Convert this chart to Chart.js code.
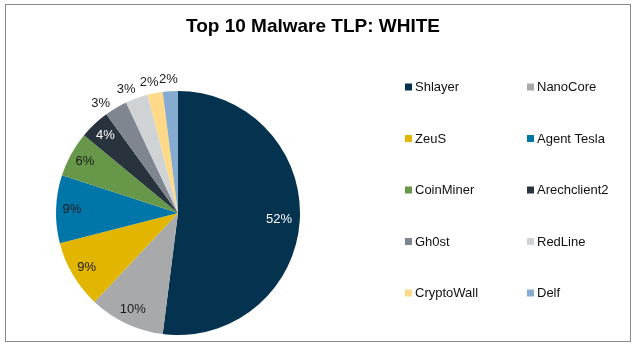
<!DOCTYPE html>
<html>
<head>
<meta charset="utf-8">
<script src="https://cdn.jsdelivr.net/npm/chart.js@4"></script>
<style>
    html, body { margin: 0; padding: 0; background: #ffffff; }
    #frame {
        position: absolute;
        left: 5px;
        top: 4px;
        width: 624px;
        height: 336px;
        border: 1px solid #8a8a8a;
    }
    #wrap { position: absolute; left: 0; top: 0; width: 637px; height: 348px; }
</style>
</head>
<body>
<div id="frame"></div>
<div id="wrap"><canvas id="myChart" width="637" height="348"></canvas></div>
<script>
const title = 'Top 10 Malware TLP: WHITE';
const labels = ['Shlayer', 'NanoCore', 'ZeuS', 'Agent Tesla', 'CoinMiner', 'Arechclient2', 'Gh0st', 'RedLine', 'CryptoWall', 'Delf'];
const shares = [52, 10, 9, 9, 6, 4, 3, 3, 2, 2];
const colors = ['#04324f', '#a8a9ab', '#e1b500', '#0075a7', '#67984a', '#28333d', '#80868f', '#d0d3d6', '#fed987', '#85abd0'];
const labelColors = ['#ffffff', '#1a1a1a', '#1a1a1a', '#1a1a1a', '#1a1a1a', '#ffffff', '#1a1a1a', '#1a1a1a', '#1a1a1a', '#1a1a1a'];

/**
 * タイトルを描画します。
 */
const titlePlugin = {
    id: 'titleText',
    afterDraw: (chart) => {
        const ctx = chart.ctx;
        ctx.save();
        ctx.font = 'bold 19px "Liberation Sans", Arial, sans-serif';
        ctx.fillStyle = '#000000';
        ctx.textAlign = 'center';
        ctx.textBaseline = 'alphabetic';
        ctx.fillText(title, 313, 32);
        ctx.restore();
    },
};

/**
 * 扇形の上にパーセントを描画します。
 * 小さい扇形は外側に、上から少し広げて配置します。
 */
const pctPlugin = {
    id: 'pctLabels',
    afterDatasetsDraw: (chart) => {
        const ctx = chart.ctx;
        const meta = chart.getDatasetMeta(0);
        ctx.save();
        ctx.font = '13px "Liberation Sans", Arial, sans-serif';
        ctx.textAlign = 'center';
        ctx.textBaseline = 'middle';

        meta.data.forEach((arc, i) => {
            const p = arc.getProps(['x', 'y', 'startAngle', 'endAngle', 'outerRadius'], true);
            let mid = (p.startAngle + p.endAngle) / 2;
            const value = shares[i];
            let k = 0.87;
            let color = labelColors[i];
            if (i === 0) {
                k = 0.83;
            }
            if (value <= 3) {
                k = 1.1;
                color = '#1a1a1a';
                const top = Math.PI * 1.5;
                mid = top - (top - mid) * 1.15;
            }
            const r = p.outerRadius * k;
            ctx.fillStyle = color;
            ctx.fillText(value + '%', p.x + Math.cos(mid) * r, p.y + Math.sin(mid) * r);
        });
        ctx.restore();
    },
};

/**
 * 凡例を2列で描画します。
 */
const legendPlugin = {
    id: 'gridLegend',
    afterDraw: (chart) => {
        const ctx = chart.ctx;
        ctx.save();
        ctx.font = '13px "Liberation Sans", Arial, sans-serif';
        ctx.textAlign = 'left';
        ctx.textBaseline = 'middle';

        labels.forEach((label, i) => {
            const col = i % 2;
            const row = Math.floor(i / 2);
            const x = col === 0 ? 405 : 527;
            const y = 87 + row * 51.5;
            ctx.fillStyle = colors[i];
            ctx.fillRect(x, y - 3.5, 7, 7);
            ctx.fillStyle = '#111111';
            ctx.fillText(label, x + 10, y + 0.5);
        });
        ctx.restore();
    },
};

const createChart = () => {
    const config = {
        type: 'pie',
        data: {
            labels: labels,
            datasets: [
                {
                    data: shares,
                    backgroundColor: colors,
                    borderWidth: 0,
                },
            ],
        },
        options: {
            responsive: false,
            animation: false,
            layout: {
                padding: { left: 56, right: 337, top: 91, bottom: 13 },
            },
            plugins: {
                legend: { display: false },
                title: { display: false },
                tooltip: { enabled: false },
            },
        },
        plugins: [titlePlugin, pctPlugin, legendPlugin],
    };

    return new Chart(document.getElementById('myChart'), config);
};

createChart();
</script>
</body>
</html>
